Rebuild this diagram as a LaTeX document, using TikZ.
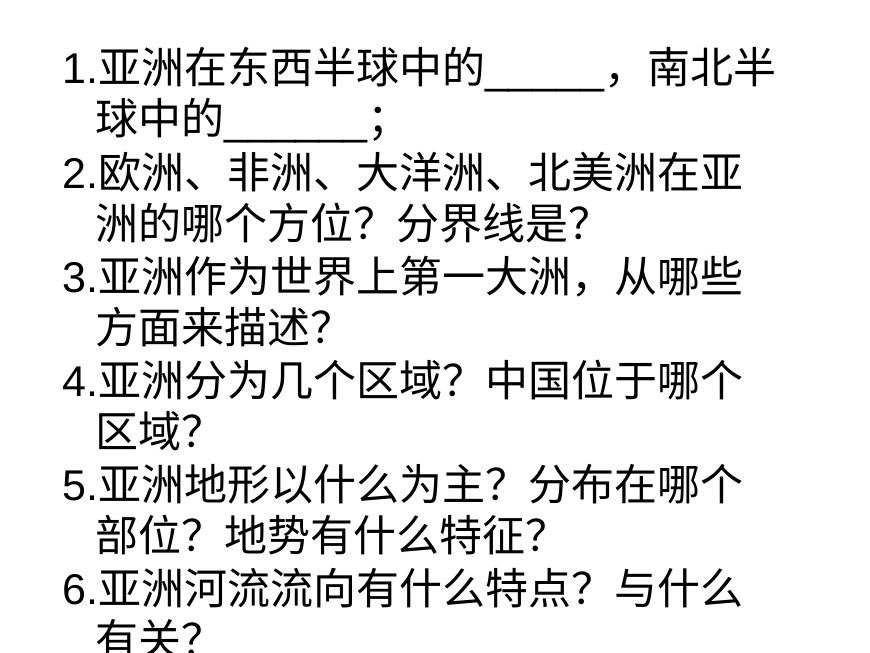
\documentclass[tikz,border=0pt]{standalone}
\usepackage{fontspec}
\setmainfont{Liberation Sans}
\newfontfamily\cjk{Noto Sans CJK SC}

\begin{document}
\begin{tikzpicture}[x=1pt,y=-1pt]
\tikzstyle{line}=[anchor=base west,inner sep=0pt,font=\fontsize{43}{43}\selectfont]
\useasboundingbox (0,0) rectangle (870,653);

% Questions, one node per printed line
\node[line] (q1a) at (62,83) {1.{\cjk 亚洲在东西半球中的}\_\_\_\_\_{\cjk ，南北半}};
\node[line] (q1b) at (95,134) {{\cjk 球中的}\_\_\_\_\_\_{\cjk ；}};
\node[line] (q2a) at (62,188) {2.{\cjk 欧洲、非洲、大洋洲、北美洲在亚}};
\node[line] (q2b) at (95,239) {{\cjk 洲的哪个方位？分界线是？}};
\node[line] (q3a) at (62,292) {3.{\cjk 亚洲作为世界上第一大洲，从哪些}};
\node[line] (q3b) at (95,343) {{\cjk 方面来描述？}};
\node[line] (q4a) at (62,396) {4.{\cjk 亚洲分为几个区域？中国位于哪个}};
\node[line] (q4b) at (95,447) {{\cjk 区域？}};
\node[line] (q5a) at (62,500) {5.{\cjk 亚洲地形以什么为主？分布在哪个}};
\node[line] (q5b) at (95,551) {{\cjk 部位？地势有什么特征？}};
\node[line] (q6a) at (62,604) {6.{\cjk 亚洲河流流向有什么特点？与什么}};
\node[line] (q6b) at (95,655) {{\cjk 有关？}};
\end{tikzpicture}
\end{document}
